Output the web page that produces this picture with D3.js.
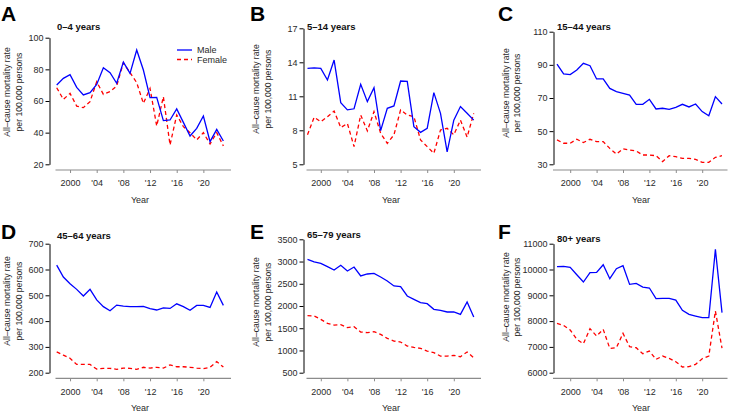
<!DOCTYPE html>
<html>
<head>
<meta charset="utf-8">
<script src="https://cdn.jsdelivr.net/npm/d3@7"></script>
<style>
  body { margin: 0; background: #fff; }
  svg { display: block; font-family: "Liberation Sans", Arial, Helvetica, sans-serif; }
</style>
</head>
<body>
<svg id="chart" width="738" height="412"></svg>
<script>
const years = [1998, 1999, 2000, 2001, 2002, 2003, 2004, 2005, 2006, 2007, 2008, 2009, 2010,
  2011, 2012, 2013, 2014, 2015, 2016, 2017, 2018, 2019, 2020, 2021, 2022, 2023];
const xTickValues = [2000, 2004, 2008, 2012, 2016, 2020];
const xTickLabels = ["2000", "'04", "'08", "'12", "'16", "'20"];

const panelLetters = ["A", "B", "C", "D", "E", "F"];
const panelTitles = ["0–4 years", "5–14 years", "15–44 years", "45–64 years", "65–79 years", "80+ years"];
const seriesNames = ["Male", "Female"];

const maleA = [70.1, 74.3, 76.6, 68.6, 63.8, 65.3, 70.5, 81, 77.9, 71.2, 84.6, 77.5, 92.2, 79.6, 62.1, 62.3, 47.6, 48, 55, 46.5, 37.9, 42.7, 50.5, 34.3, 42.1, 34.7];
const femaleA = [68.4, 61, 64.8, 56.8, 55.8, 59.6, 72.2, 64.2, 65.9, 69.5, 84.2, 77.9, 71.6, 58.5, 68, 44.2, 62.7, 32.2, 51.2, 43.8, 40, 35.4, 40, 32.8, 40, 31.6];
const maleB = [13.47, 13.5, 13.47, 12.44, 14.2, 10.44, 9.8, 9.9, 12.06, 10.53, 11.76, 7.97, 9.94, 10.15, 12.35, 12.32, 8.32, 7.82, 8.18, 11.32, 9.5, 6.1, 8.9, 10.1, 9.5, 8.9];
const femaleB = [7.6, 9.15, 8.76, 9.2, 9.7, 8.24, 8.6, 6.56, 9.35, 7.94, 9.65, 7.74, 6.85, 7.6, 9.8, 9.35, 9.2, 7.15, 6.56, 5.97, 8.03, 8.18, 7.6, 8.9, 7.4, 9.5];
const maleC = [90.5, 84.5, 84.1, 86.9, 90.9, 89.5, 81.5, 81.5, 75.8, 73.8, 72.8, 71.8, 66.2, 66.2, 69.2, 63.4, 63.8, 63.2, 64.4, 66.2, 64.6, 66.4, 61.8, 59.3, 70.8, 66.4];
const femaleC = [44.7, 42.7, 42.7, 45.1, 43.1, 45.1, 43.7, 43.7, 39.6, 36.2, 39.4, 38.6, 38, 35.6, 35.6, 35.2, 31.6, 35.2, 34.6, 33.6, 33.6, 33, 31.2, 31.2, 34.2, 35.2];
const maleD = [617, 571, 545, 523, 497, 523, 482, 456, 440, 462, 458, 456, 456, 457, 448, 443, 451, 449, 467, 456, 442, 461, 461, 453, 513, 461];
const femaleD = [281, 268, 256, 232, 232, 232, 214, 217, 217, 213, 218, 217, 213, 221, 218, 221, 218, 230, 223, 223, 221, 218, 216, 221, 243, 222];
const maleE = [3050, 2990, 2960, 2885, 2810, 2915, 2787, 2877, 2675, 2720, 2735, 2652, 2562, 2450, 2435, 2225, 2150, 2075, 2052, 1925, 1902, 1865, 1865, 1812, 2090, 1752];
const femaleE = [1782, 1775, 1700, 1610, 1572, 1580, 1512, 1535, 1415, 1400, 1422, 1362, 1272, 1212, 1190, 1100, 1070, 1047, 987, 950, 875, 875, 890, 860, 965, 837];
const maleF = [10108, 10121, 10083, 9798, 9514, 9876, 9889, 10186, 9643, 10031, 10147, 9424, 9462, 9320, 9282, 8868, 8881, 8881, 8816, 8416, 8261, 8196, 8132, 8132, 10780, 8326];
const femaleF = [7912, 7835, 7654, 7292, 7124, 7706, 7421, 7680, 6943, 6968, 7525, 7008, 6968, 6736, 6840, 6517, 6646, 6556, 6426, 6220, 6233, 6323, 6543, 6646, 8390, 6950];

const yTicksA = [20, 40, 60, 80, 100];
const yTicksB = [5, 8, 11, 14, 17];
const yTicksC = [30, 50, 70, 90, 110];
const yTicksD = [200, 300, 400, 500, 600, 700];
const yTicksE = [500, 1000, 1500, 2000, 2500, 3000, 3500];
const yTicksF = [6000, 7000, 8000, 9000, 10000, 11000];

const maleSeries = [maleA, maleB, maleC, maleD, maleE, maleF];
const femaleSeries = [femaleA, femaleB, femaleC, femaleD, femaleE, femaleF];
const yTickSets = [yTicksA, yTicksB, yTicksC, yTicksD, yTicksE, yTicksF];

// layout (pixels), by column and row
const COLS = [
  { yAxisX: 49.5, x1998: 56.7, k: 6.667, xLine: [55.5, 231], lab: [10, 21.5], yearX: 140, letterX: 1, titleX: 57 },
  { yAxisX: 303.5, x1998: 307.5, k: 6.65, xLine: [306.5, 481], lab: [259, 270.5], yearX: 391, letterX: 250, titleX: 307 },
  { yAxisX: 553.5, x1998: 557, k: 6.6, xLine: [553, 727.5], lab: [508.5, 520], yearX: 641, letterX: 498, titleX: 557 }
];
const ROWS = [
  { xAxisY: 170, yBot: 164.3, letterY: 21, yearY: 202.5 },
  { xAxisY: 378.3, yBot: 372.7, letterY: 238.5, yearY: 410.5 }
];
const PANEL = [
  { yTop: 37.7, titleY: 29.5, labY: 92 },
  { yTop: 28.3, titleY: 30, labY: 89 },
  { yTop: 31.7, titleY: 30, labY: 93 },
  { yTop: 243.7, titleY: 239, labY: 301 },
  { yTop: 239.3, titleY: 238, labY: 302 },
  { yTop: 243.7, titleY: 242, labY: 297 }
];

const BLUE = "#0000ff";
const RED = "#ff0000";
const TEXT = "#2a2a2a";

const svg = d3.select("#chart");

function drawPanel(i) {
  const col = COLS[i % 3];
  const row = ROWS[Math.floor(i / 3)];
  const pan = PANEL[i];
  const ticks = yTickSets[i];
  const g = svg.append("g");

  const x = d3.scaleLinear()
    .domain([1998, 2020])
    .range([col.x1998, col.x1998 + 22 * col.k]);
  const y = d3.scaleLinear()
    .domain([ticks[0], ticks[ticks.length - 1]])
    .range([row.yBot, pan.yTop]);

  // y axis (line spans first to last tick)
  const ya = g.append("g")
    .attr("transform", `translate(${col.yAxisX},0)`)
    .call(d3.axisLeft(y).tickValues(ticks).tickFormat(d3.format("d"))
      .tickSize(4).tickPadding(2).tickSizeOuter(0));
  ya.select(".domain").attr("stroke", "#000").attr("stroke-width", 1);
  ya.selectAll(".tick line").attr("stroke", "#000");
  ya.selectAll(".tick text")
    .attr("font-size", 9)
    .attr("font-family", null)
    .attr("fill", TEXT);

  // x axis (grey)
  const xa = g.append("g")
    .attr("transform", `translate(0,${row.xAxisY})`)
    .call(d3.axisBottom(x).tickValues(xTickValues)
      .tickFormat((d, j) => xTickLabels[j])
      .tickSize(3).tickPadding(7).tickSizeOuter(0));
  xa.select(".domain").remove();
  xa.append("line")
    .attr("x1", col.xLine[0])
    .attr("x2", col.xLine[1])
    .attr("stroke", "#8c8c8c")
    .attr("stroke-width", 1.2);
  xa.selectAll(".tick line").attr("stroke", "#8c8c8c");
  xa.selectAll(".tick text")
    .attr("font-size", 9)
    .attr("font-family", null)
    .attr("fill", TEXT);

  // lines
  const line = d3.line()
    .x((d, j) => x(years[j]))
    .y(d => y(d));

  g.append("path")
    .datum(femaleSeries[i])
    .attr("d", line)
    .attr("fill", "none")
    .attr("stroke", RED)
    .attr("stroke-width", 1.3)
    .attr("stroke-dasharray", "4,3");

  g.append("path")
    .datum(maleSeries[i])
    .attr("d", line)
    .attr("fill", "none")
    .attr("stroke", BLUE)
    .attr("stroke-width", 1.3);

  // titles
  g.append("text")
    .attr("x", col.letterX)
    .attr("y", row.letterY)
    .attr("font-size", 21)
    .attr("font-weight", "bold")
    .attr("fill", "#000")
    .text(panelLetters[i]);

  g.append("text")
    .attr("x", col.titleX)
    .attr("y", pan.titleY)
    .attr("font-size", 9.5)
    .attr("font-weight", "bold")
    .attr("fill", "#111")
    .text(panelTitles[i]);

  // axis labels
  ["All–cause mortality rate", "per 100,000 persons"].forEach((t, j) => {
    g.append("text")
      .attr("transform", `translate(${col.lab[j]},${pan.labY}) rotate(-90)`)
      .attr("text-anchor", "middle")
      .attr("font-size", 8.6)
      .attr("fill", TEXT)
      .text(t);
  });

  g.append("text")
    .attr("x", col.yearX)
    .attr("y", row.yearY)
    .attr("text-anchor", "middle")
    .attr("font-size", 9)
    .attr("fill", TEXT)
    .text("Year");
}

for (let i = 0; i < 6; i++) drawPanel(i);

// Legend (panel A)
const legend = svg.append("g").attr("transform", "translate(177,50)");
seriesNames.forEach((name, j) => {
  const row = legend.append("g").attr("transform", `translate(0,${j * 9.5})`);
  row.append("line")
    .attr("x1", 0).attr("x2", 15)
    .attr("stroke", j === 0 ? BLUE : RED)
    .attr("stroke-width", 1.3)
    .attr("stroke-dasharray", j === 0 ? null : "4,3");
  row.append("text")
    .attr("x", 20)
    .attr("dy", "0.35em")
    .attr("font-size", 9)
    .attr("fill", TEXT)
    .text(name);
});
</script>
</body>
</html>
